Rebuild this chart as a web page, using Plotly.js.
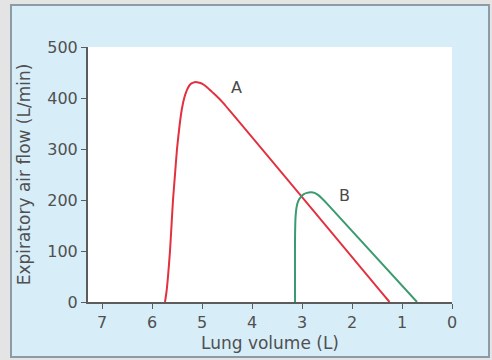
<!DOCTYPE html>
<html>
<head>
<meta charset="utf-8">
<script src="https://cdn.plot.ly/plotly-3.0.1.min.js"></script>
<style>
html,body{margin:0;padding:0;background:#e4e4e4;width:492px;height:360px;overflow:hidden;}
#frame{position:absolute;left:10px;top:4px;width:476px;height:350px;border:2px solid #8c9ba6;background:#d7eef9;}
#chart{width:476px;height:350px;}
</style>
</head>
<body>
<div id="frame"><div id="chart"></div></div>
<script>
// Curve A (normal expiration)
const volumeA = [5.74, 5.71, 5.68, 5.64, 5.61, 5.58, 5.54, 5.5, 5.45, 5.4, 5.35, 5.3, 5.25, 5.2, 5.15, 5.1, 5.05, 5.0, 4.9, 4.8, 4.7, 4.6, 1.25];
const flowA   = [0, 20, 50, 100, 150, 200, 250, 300, 345, 380, 402, 416, 425, 429, 431, 431, 430, 428, 421, 412, 403, 393, 0];
// Curve B
const volumeB = [3.14, 3.14, 3.14, 3.13, 3.11, 3.08, 3.03, 2.97, 2.9, 2.82, 2.75, 2.68, 2.6, 2.5, 0.7];
const flowB   = [0, 50, 120, 165, 185, 197, 205, 211, 214, 215, 214, 210, 203, 193, 0];
const labelText = ["A", "B"];
const labelX = [4.32, 2.16];
const labelY = [421, 209];

const fam = "DejaVu Sans, Verdana, sans-serif";
const tickFont = {family: fam, size: 16, color: "#505050"};
const titleFont = {family: fam, size: 17, color: "#505050"};

const traces = [
  {x: volumeA, y: flowA, mode: "lines", line: {color: "#e2303e", width: 2, shape: "spline", smoothing: 0.5}, hoverinfo: "skip"},
  {x: volumeB, y: flowB, mode: "lines", line: {color: "#3a9a70", width: 2, shape: "spline", smoothing: 0.5}, hoverinfo: "skip"}
];

const layout = {
  width: 476, height: 350,
  margin: {l: 76, r: 36, t: 41, b: 54},
  paper_bgcolor: "#d7eef9",
  plot_bgcolor: "#ffffff",
  showlegend: false,
  font: tickFont,
  xaxis: {
    range: [7.28, 0], tick0: 0, dtick: 1,
    showgrid: false, zeroline: false,
    showline: true, linecolor: "#5c5c5c", linewidth: 2,
    ticks: "outside", ticklen: 5, tickwidth: 1, tickcolor: "#5c5c5c",
    tickfont: tickFont,
    title: {text: "Lung volume (L)", font: titleFont, standoff: 6}
  },
  yaxis: {
    range: [0, 500], tick0: 0, dtick: 100,
    showgrid: false, zeroline: false,
    showline: true, linecolor: "#5c5c5c", linewidth: 2,
    ticks: "outside", ticklen: 5, tickwidth: 1, tickcolor: "#5c5c5c",
    tickfont: tickFont,
    title: {text: "Expiratory air flow (L/min)", font: titleFont, standoff: 12}
  },
  annotations: labelText.map((t, i) => ({
    x: labelX[i], y: labelY[i], xref: "x", yref: "y",
    text: t, showarrow: false,
    font: {family: fam, size: 16, color: "#4a4a4a"}
  }))
};

Plotly.newPlot("chart", traces, layout, {displayModeBar: false, staticPlot: true});
</script>
</body>
</html>
